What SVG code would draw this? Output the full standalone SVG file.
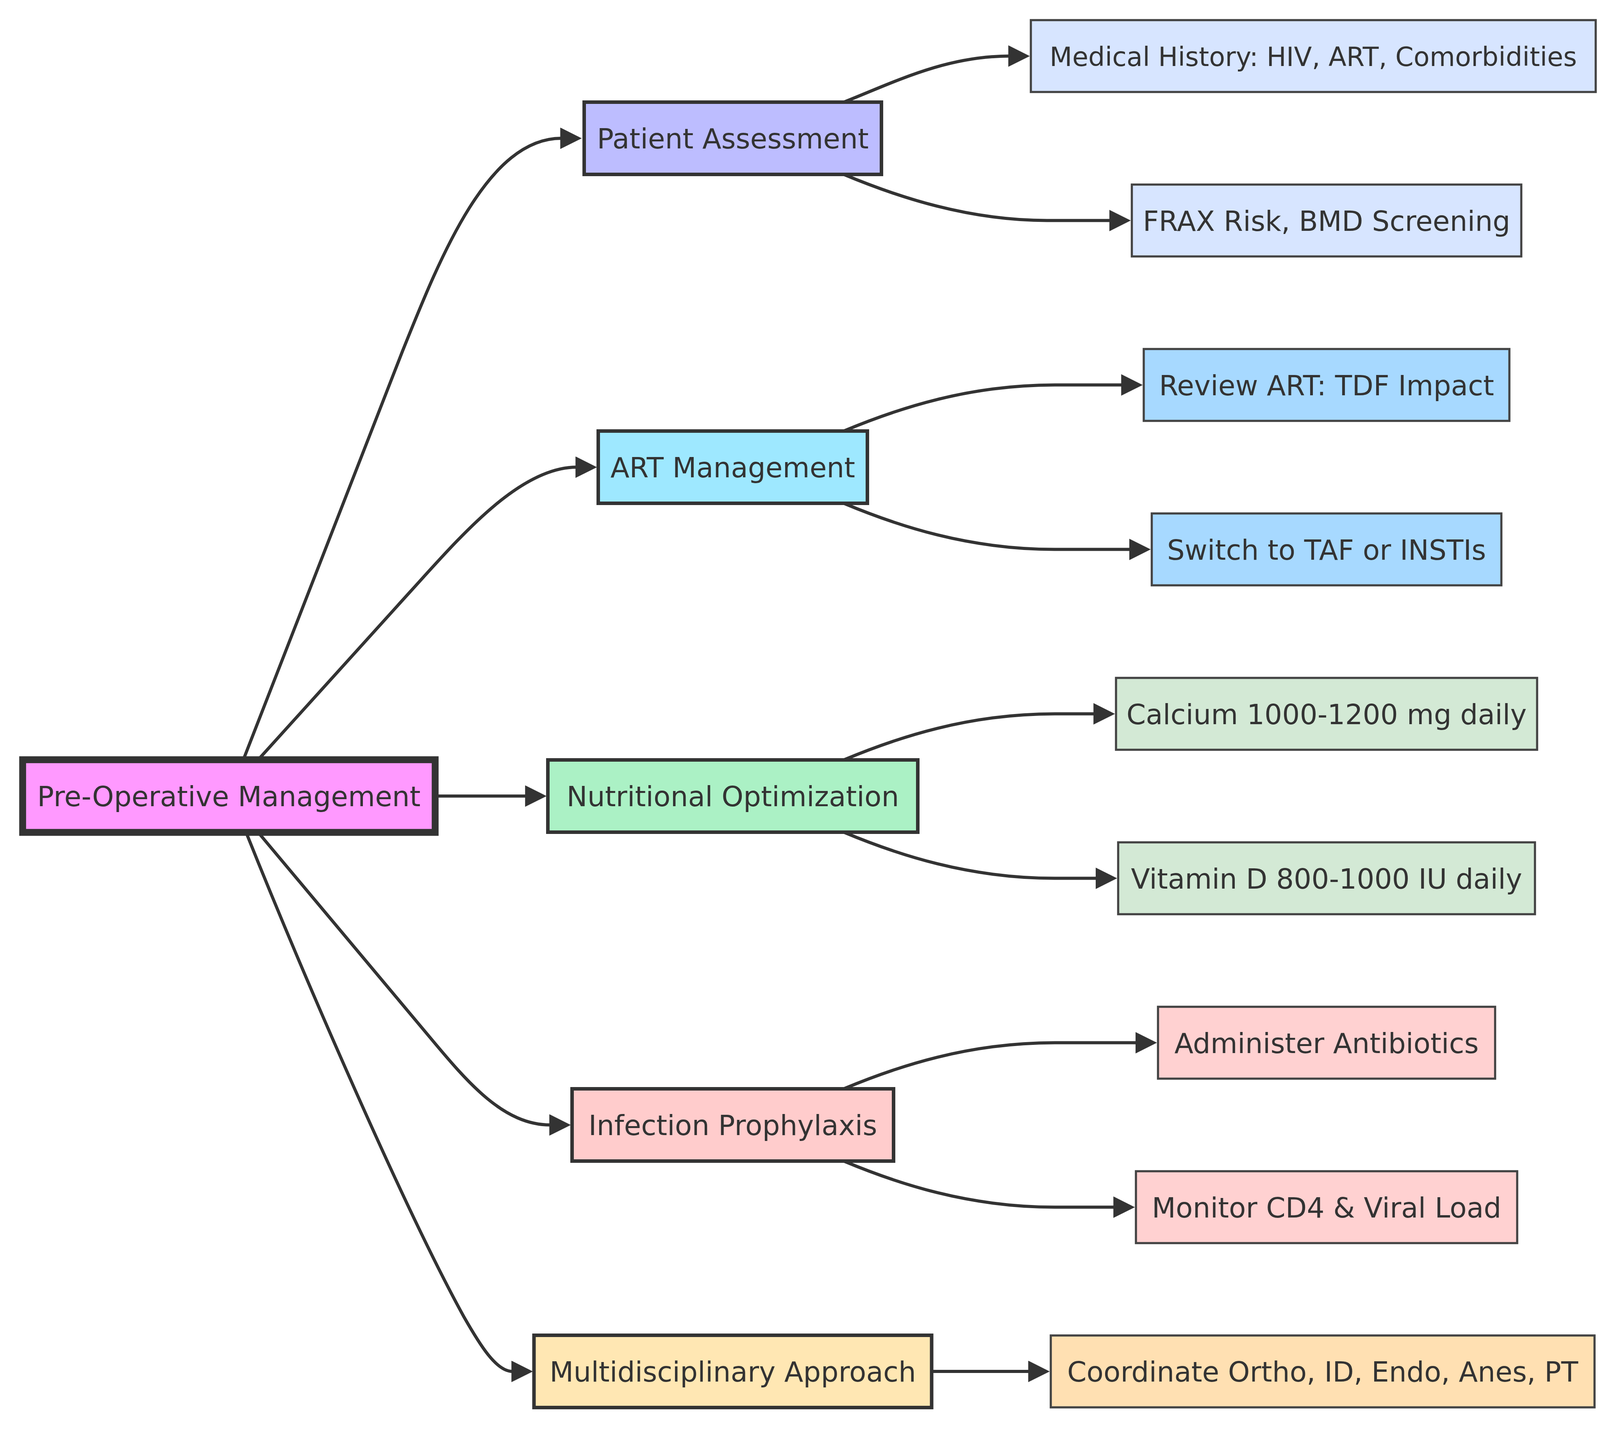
<svg xmlns="http://www.w3.org/2000/svg" width="4217" height="3661" viewBox="0 0 4217 3661">
<style>
  .lbl { font-family: "DejaVu Sans", Verdana, sans-serif; font-size: 71px; fill: #333333; text-anchor: middle; }
  .root { stroke: #333333; stroke-width: 17.6; }
  .mid { stroke: #333333; stroke-width: 9; }
  .leaf { stroke: #444444; stroke-width: 5.5; }
  .edge { fill: none; stroke: #333333; stroke-width: 8; }
</style>
<defs>
  <marker id="arrow" viewBox="0 0 10 10" refX="0.5" refY="5" markerUnits="userSpaceOnUse" markerWidth="55" markerHeight="55" orient="auto">
    <path d="M0,0 L10,5 L0,10 z" fill="#333333"/>
  </marker>
</defs>
<rect width="4217" height="3661" fill="#ffffff"/>

<g id="connectors">
  <path class="edge" marker-end="url(#arrow)" d="M 623 1945 L 1030 900 C 1130 650, 1250 354, 1437 354"/>
  <path class="edge" marker-end="url(#arrow)" d="M 661 1945 L 1050 1515 C 1180 1372, 1330 1196, 1476 1196"/>
  <path class="edge" marker-end="url(#arrow)" d="M 1112 2038 L 1347 2038"/>
  <path class="edge" marker-end="url(#arrow)" d="M 661 2131 L 1100 2655 C 1200 2775, 1290 2880, 1409 2880"/>
  <path class="edge" marker-end="url(#arrow)" d="M 630 2131 C 780 2506, 1038 3100, 1188 3372 C 1228 3442, 1270 3511, 1312 3511"/>
  <path class="edge" marker-end="url(#arrow)" d="M 2160 261.5 C 2290 210, 2420 143.5, 2584 143.5"/>
  <path class="edge" marker-end="url(#arrow)" d="M 2160 446.5 C 2300 505, 2480 564.5, 2680 564.5 L 2842.5 564.5"/>
  <path class="edge" marker-end="url(#arrow)" d="M 2160 1103.5 C 2300 1045, 2480 985.5, 2700 985.5 L 2873 985.5"/>
  <path class="edge" marker-end="url(#arrow)" d="M 2160 1288.5 C 2300 1347, 2480 1406.5, 2700 1406.5 L 2893.5 1406.5"/>
  <path class="edge" marker-end="url(#arrow)" d="M 2160 1945.5 C 2300 1887, 2480 1827.5, 2700 1827.5 L 2802 1827.5"/>
  <path class="edge" marker-end="url(#arrow)" d="M 2160 2130.5 C 2300 2189, 2480 2248.5, 2700 2248.5 L 2807.5 2248.5"/>
  <path class="edge" marker-end="url(#arrow)" d="M 2160 2787.5 C 2300 2729, 2480 2669.5, 2700 2669.5 L 2909.5 2669.5"/>
  <path class="edge" marker-end="url(#arrow)" d="M 2160 2972.5 C 2300 3031, 2480 3090.5, 2700 3090.5 L 2853 3090.5"/>
  <path class="edge" marker-end="url(#arrow)" d="M 2385 3511 L 2635 3511"/>
</g>

<g id="node-root">
  <rect class="root" x="58" y="1945" width="1056" height="186" fill="#ff99ff"/>
  <text class="lbl" x="586" y="2064">Pre-Operative Management</text>
</g>

<g id="node-patient-assessment">
  <rect class="mid" x="1495.5" y="261.5" width="761" height="185" fill="#bdbdff"/>
  <text class="lbl" x="1876" y="380">Patient Assessment</text>
</g>
<g id="node-art-management">
  <rect class="mid" x="1531.5" y="1103.5" width="689" height="185" fill="#9ee8ff"/>
  <text class="lbl" x="1876" y="1222">ART Management</text>
</g>
<g id="node-nutritional-optimization">
  <rect class="mid" x="1402.5" y="1945.5" width="947" height="185" fill="#abf1c5"/>
  <text class="lbl" x="1876" y="2064">Nutritional Optimization</text>
</g>
<g id="node-infection-prophylaxis">
  <rect class="mid" x="1464.5" y="2787.5" width="823" height="185" fill="#ffcccc"/>
  <text class="lbl" x="1876" y="2906">Infection Prophylaxis</text>
</g>
<g id="node-multidisciplinary-approach">
  <rect class="mid" x="1367" y="3418.5" width="1018" height="185" fill="#ffe7b3"/>
  <text class="lbl" x="1876" y="3537">Multidisciplinary Approach</text>
</g>

<g id="node-medical-history">
  <rect class="leaf" x="2639" y="51.5" width="1446" height="184" fill="#d7e5ff"/>
  <text class="lbl" x="3362" y="168.5" style="font-size:67px">Medical History: HIV, ART, Comorbidities</text>
</g>
<g id="node-frax">
  <rect class="leaf" x="2897.5" y="472.5" width="997" height="184" fill="#d7e5ff"/>
  <text class="lbl" x="3396" y="590.5">FRAX Risk, BMD Screening</text>
</g>
<g id="node-review-art">
  <rect class="leaf" x="2928" y="893.5" width="936" height="184" fill="#a7d9ff"/>
  <text class="lbl" x="3396" y="1011.5">Review ART: TDF Impact</text>
</g>
<g id="node-switch">
  <rect class="leaf" x="2948.5" y="1314.5" width="895" height="184" fill="#a7d9ff"/>
  <text class="lbl" x="3396" y="1432.5">Switch to TAF or INSTIs</text>
</g>
<g id="node-calcium">
  <rect class="leaf" x="2857" y="1735.5" width="1078" height="184" fill="#d3e9d5"/>
  <text class="lbl" x="3396" y="1853.5">Calcium 1000-1200 mg daily</text>
</g>
<g id="node-vitamin-d">
  <rect class="leaf" x="2862.5" y="2156.5" width="1067" height="184" fill="#d3e9d5"/>
  <text class="lbl" x="3396" y="2274.5">Vitamin D 800-1000 IU daily</text>
</g>
<g id="node-antibiotics">
  <rect class="leaf" x="2964.5" y="2577.5" width="863" height="184" fill="#ffd1d1"/>
  <text class="lbl" x="3396" y="2695.5">Administer Antibiotics</text>
</g>
<g id="node-monitor">
  <rect class="leaf" x="2908" y="2998.5" width="976" height="184" fill="#ffd1d1"/>
  <text class="lbl" x="3396" y="3116.5">Monitor CD4 &amp; Viral Load</text>
</g>
<g id="node-coordinate">
  <rect class="leaf" x="2690" y="3419" width="1392" height="184" fill="#ffe0b2"/>
  <text class="lbl" x="3386" y="3537">Coordinate Ortho, ID, Endo, Anes, PT</text>
</g>
</svg>
